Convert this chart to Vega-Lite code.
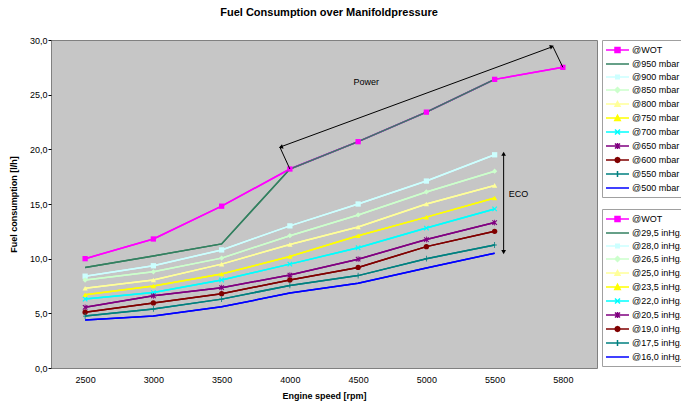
{
  "$schema": "https://vega.github.io/schema/vega-lite/v6.json",
  "width": 546,
  "height": 328,
  "autosize": "none",
  "padding": {"left": 51, "top": 40, "right": 84, "bottom": 39},
  "background": "white",
  "config": {
    "view": {"fill": "#C6C6C6", "stroke": "#808080", "strokeWidth": 1},
    "font": "Liberation Sans",
    "axis": {"labelFont": "Liberation Sans", "titleFont": "Liberation Sans", "labelColor": "#000000", "titleColor": "#000000", "labelFontSize": 9, "titleFontSize": 9, "titleFontWeight": "bold", "grid": false, "domain": false}
  },
  "title": {"text": "Fuel Consumption over Manifoldpressure", "fontSize": 11, "fontWeight": "bold", "font": "Liberation Sans", "color": "#000000", "anchor": "middle", "frame": "group", "offset": 7, "baseline": "bottom", "dx": 5},
  "datasets": {
    "fuel": [
      {"rpm": 2500, "series": "@WOT", "inhg": "@WOT", "fuel": 10.0},
      {"rpm": 3000, "series": "@WOT", "inhg": "@WOT", "fuel": 11.8},
      {"rpm": 3500, "series": "@WOT", "inhg": "@WOT", "fuel": 14.8},
      {"rpm": 4000, "series": "@WOT", "inhg": "@WOT", "fuel": 18.2},
      {"rpm": 4500, "series": "@WOT", "inhg": "@WOT", "fuel": 20.7},
      {"rpm": 5000, "series": "@WOT", "inhg": "@WOT", "fuel": 23.4},
      {"rpm": 5500, "series": "@WOT", "inhg": "@WOT", "fuel": 26.4},
      {"rpm": 5800, "series": "@WOT", "inhg": "@WOT", "fuel": 27.5},
      {"rpm": 2500, "series": "@950 mbar", "inhg": "@29,5 inHg.", "fuel": 9.2},
      {"rpm": 3000, "series": "@950 mbar", "inhg": "@29,5 inHg.", "fuel": 10.25},
      {"rpm": 3500, "series": "@950 mbar", "inhg": "@29,5 inHg.", "fuel": 11.35},
      {"rpm": 4000, "series": "@950 mbar", "inhg": "@29,5 inHg.", "fuel": 18.2},
      {"rpm": 4500, "series": "@950 mbar", "inhg": "@29,5 inHg.", "fuel": 20.7},
      {"rpm": 5000, "series": "@950 mbar", "inhg": "@29,5 inHg.", "fuel": 23.4},
      {"rpm": 5500, "series": "@950 mbar", "inhg": "@29,5 inHg.", "fuel": 26.4},
      {"rpm": 2500, "series": "@900 mbar", "inhg": "@28,0 inHg.", "fuel": 8.4},
      {"rpm": 3000, "series": "@900 mbar", "inhg": "@28,0 inHg.", "fuel": 9.35},
      {"rpm": 3500, "series": "@900 mbar", "inhg": "@28,0 inHg.", "fuel": 10.8},
      {"rpm": 4000, "series": "@900 mbar", "inhg": "@28,0 inHg.", "fuel": 13.0},
      {"rpm": 4500, "series": "@900 mbar", "inhg": "@28,0 inHg.", "fuel": 15.0},
      {"rpm": 5000, "series": "@900 mbar", "inhg": "@28,0 inHg.", "fuel": 17.1},
      {"rpm": 5500, "series": "@900 mbar", "inhg": "@28,0 inHg.", "fuel": 19.5},
      {"rpm": 2500, "series": "@850 mbar", "inhg": "@26,5 inHg.", "fuel": 8.05},
      {"rpm": 3000, "series": "@850 mbar", "inhg": "@26,5 inHg.", "fuel": 8.8},
      {"rpm": 3500, "series": "@850 mbar", "inhg": "@26,5 inHg.", "fuel": 10.05},
      {"rpm": 4000, "series": "@850 mbar", "inhg": "@26,5 inHg.", "fuel": 12.1},
      {"rpm": 4500, "series": "@850 mbar", "inhg": "@26,5 inHg.", "fuel": 14.0},
      {"rpm": 5000, "series": "@850 mbar", "inhg": "@26,5 inHg.", "fuel": 16.1},
      {"rpm": 5500, "series": "@850 mbar", "inhg": "@26,5 inHg.", "fuel": 18.0},
      {"rpm": 2500, "series": "@800 mbar", "inhg": "@25,0 inHg.", "fuel": 7.3},
      {"rpm": 3000, "series": "@800 mbar", "inhg": "@25,0 inHg.", "fuel": 8.05},
      {"rpm": 3500, "series": "@800 mbar", "inhg": "@25,0 inHg.", "fuel": 9.5},
      {"rpm": 4000, "series": "@800 mbar", "inhg": "@25,0 inHg.", "fuel": 11.3},
      {"rpm": 4500, "series": "@800 mbar", "inhg": "@25,0 inHg.", "fuel": 12.9},
      {"rpm": 5000, "series": "@800 mbar", "inhg": "@25,0 inHg.", "fuel": 15.0},
      {"rpm": 5500, "series": "@800 mbar", "inhg": "@25,0 inHg.", "fuel": 16.7},
      {"rpm": 2500, "series": "@750 mbar", "inhg": "@23,5 inHg.", "fuel": 6.7},
      {"rpm": 3000, "series": "@750 mbar", "inhg": "@23,5 inHg.", "fuel": 7.5},
      {"rpm": 3500, "series": "@750 mbar", "inhg": "@23,5 inHg.", "fuel": 8.6},
      {"rpm": 4000, "series": "@750 mbar", "inhg": "@23,5 inHg.", "fuel": 10.2},
      {"rpm": 4500, "series": "@750 mbar", "inhg": "@23,5 inHg.", "fuel": 12.1},
      {"rpm": 5000, "series": "@750 mbar", "inhg": "@23,5 inHg.", "fuel": 13.8},
      {"rpm": 5500, "series": "@750 mbar", "inhg": "@23,5 inHg.", "fuel": 15.55},
      {"rpm": 2500, "series": "@700 mbar", "inhg": "@22,0 inHg.", "fuel": 6.3},
      {"rpm": 3000, "series": "@700 mbar", "inhg": "@22,0 inHg.", "fuel": 6.9},
      {"rpm": 3500, "series": "@700 mbar", "inhg": "@22,0 inHg.", "fuel": 8.05},
      {"rpm": 4000, "series": "@700 mbar", "inhg": "@22,0 inHg.", "fuel": 9.5},
      {"rpm": 4500, "series": "@700 mbar", "inhg": "@22,0 inHg.", "fuel": 11.0},
      {"rpm": 5000, "series": "@700 mbar", "inhg": "@22,0 inHg.", "fuel": 12.8},
      {"rpm": 5500, "series": "@700 mbar", "inhg": "@22,0 inHg.", "fuel": 14.55},
      {"rpm": 2500, "series": "@650 mbar", "inhg": "@20,5 inHg.", "fuel": 5.55},
      {"rpm": 3000, "series": "@650 mbar", "inhg": "@20,5 inHg.", "fuel": 6.6},
      {"rpm": 3500, "series": "@650 mbar", "inhg": "@20,5 inHg.", "fuel": 7.35},
      {"rpm": 4000, "series": "@650 mbar", "inhg": "@20,5 inHg.", "fuel": 8.5},
      {"rpm": 4500, "series": "@650 mbar", "inhg": "@20,5 inHg.", "fuel": 9.95},
      {"rpm": 5000, "series": "@650 mbar", "inhg": "@20,5 inHg.", "fuel": 11.75},
      {"rpm": 5500, "series": "@650 mbar", "inhg": "@20,5 inHg.", "fuel": 13.3},
      {"rpm": 2500, "series": "@600 mbar", "inhg": "@19,0 inHg.", "fuel": 5.1},
      {"rpm": 3000, "series": "@600 mbar", "inhg": "@19,0 inHg.", "fuel": 5.95},
      {"rpm": 3500, "series": "@600 mbar", "inhg": "@19,0 inHg.", "fuel": 6.8},
      {"rpm": 4000, "series": "@600 mbar", "inhg": "@19,0 inHg.", "fuel": 8.05},
      {"rpm": 4500, "series": "@600 mbar", "inhg": "@19,0 inHg.", "fuel": 9.2},
      {"rpm": 5000, "series": "@600 mbar", "inhg": "@19,0 inHg.", "fuel": 11.1},
      {"rpm": 5500, "series": "@600 mbar", "inhg": "@19,0 inHg.", "fuel": 12.5},
      {"rpm": 2500, "series": "@550 mbar", "inhg": "@17,5 inHg.", "fuel": 4.75},
      {"rpm": 3000, "series": "@550 mbar", "inhg": "@17,5 inHg.", "fuel": 5.4},
      {"rpm": 3500, "series": "@550 mbar", "inhg": "@17,5 inHg.", "fuel": 6.3},
      {"rpm": 4000, "series": "@550 mbar", "inhg": "@17,5 inHg.", "fuel": 7.55},
      {"rpm": 4500, "series": "@550 mbar", "inhg": "@17,5 inHg.", "fuel": 8.45},
      {"rpm": 5000, "series": "@550 mbar", "inhg": "@17,5 inHg.", "fuel": 10.0},
      {"rpm": 5500, "series": "@550 mbar", "inhg": "@17,5 inHg.", "fuel": 11.25},
      {"rpm": 2500, "series": "@500 mbar", "inhg": "@16,0 inHg.", "fuel": 4.4},
      {"rpm": 3000, "series": "@500 mbar", "inhg": "@16,0 inHg.", "fuel": 4.75},
      {"rpm": 3500, "series": "@500 mbar", "inhg": "@16,0 inHg.", "fuel": 5.6},
      {"rpm": 4000, "series": "@500 mbar", "inhg": "@16,0 inHg.", "fuel": 6.85},
      {"rpm": 4500, "series": "@500 mbar", "inhg": "@16,0 inHg.", "fuel": 7.75},
      {"rpm": 5000, "series": "@500 mbar", "inhg": "@16,0 inHg.", "fuel": 9.15},
      {"rpm": 5500, "series": "@500 mbar", "inhg": "@16,0 inHg.", "fuel": 10.5}
    ]
  },
  "encoding": {
    "x": {"field": "rpm", "type": "ordinal", "scale": {"type": "point", "padding": 0.5},
      "axis": {"title": "Engine speed [rpm]", "labelAngle": 0, "ticks": false, "labelPadding": 7, "titlePadding": 7}},
    "y": {"field": "fuel", "type": "quantitative", "scale": {"domain": [0, 30], "nice": false},
      "axis": {"title": "Fuel consumption [l/h]", "values": [0, 5, 10, 15, 20, 25, 30], "labelExpr": "replace(format(datum.value, '.1f'), '.', ',')", "tickSize": 3, "tickColor": "#000000", "labelPadding": 1, "titlePadding": 11}}
  },
  "layer": [
    {
      "data": {"name": "fuel"},
      "mark": {"type": "line", "strokeWidth": 1.5},
      "encoding": {
        "color": {"field": "series", "type": "nominal",
          "scale": {"domain": ["@WOT", "@950 mbar", "@900 mbar", "@850 mbar", "@800 mbar", "@750 mbar", "@700 mbar", "@650 mbar", "@600 mbar", "@550 mbar", "@500 mbar"],
            "range": ["#FF00FF", "#338060", "#CCFFFF", "#CCFFCC", "#FFFF99", "#FFFF00", "#00FFFF", "#800080", "#800000", "#008080", "#0000FF"]},
          "legend": {"title": null, "orient": "none", "legendX": 551, "legendY": 0, "padding": 4, "strokeColor": "#A0A0A0", "fillColor": "#FFFFFF", "labelFont": "Liberation Sans", "labelFontSize": 9, "labelColor": "#000000", "symbolSize": 100, "symbolStrokeWidth": 1.5, "rowPadding": 2, "labelOffset": 14, "symbolType": "stroke",
            "encode": {"symbols": {"update": {
              "shape": {"signal": "datum.value === '@WOT' ? 'M-1.2,0H3.4M0.6,-0.5H1.6V0.5H0.6Z' : datum.value === '@900 mbar' ? 'M-1.2,0H3.4M0.75,-0.35H1.45V0.35H0.75Z' : datum.value === '@850 mbar' ? 'M-1.2,0H3.4M1.1,-0.5L1.6,0L1.1,0.5L0.6,0Z' : datum.value === '@800 mbar' ? 'M-1.2,0H3.4M1.1,-0.5L1.6,0.45H0.6Z' : datum.value === '@750 mbar' ? 'M-1.2,0H3.4M1.1,-0.55L1.65,0.5H0.55Z' : datum.value === '@700 mbar' ? 'M-1.2,0H3.4M0.6,-0.5L1.6,0.5M0.6,0.5L1.6,-0.5' : datum.value === '@650 mbar' ? 'M-1.2,0H3.4M0.6,-0.5L1.6,0.5M0.6,0.5L1.6,-0.5M1.1,-0.6V0.6' : datum.value === '@600 mbar' ? 'M-1.2,0H3.4M1.6,0L1.454,0.354L1.1,0.5L0.746,0.354L0.6,0L0.746,-0.354L1.1,-0.5L1.454,-0.354Z' : datum.value === '@550 mbar' ? 'M-1.2,0H3.4M1.1,-0.6V0.6' : 'M-1.2,0H3.4'"},
              "fill": {"scale": "color", "field": "value"},
              "stroke": {"scale": "color", "field": "value"},
              "strokeWidth": {"value": 1.5},
              "opacity": {"value": 1}
            }}}}
        }
      }
    },
    {
      "data": {"name": "fuel"},
      "mark": {"type": "line", "strokeWidth": 1.5},
      "encoding": {
        "stroke": {"field": "inhg", "type": "nominal",
          "scale": {"domain": ["@WOT", "@29,5 inHg.", "@28,0 inHg.", "@26,5 inHg.", "@25,0 inHg.", "@23,5 inHg.", "@22,0 inHg.", "@20,5 inHg.", "@19,0 inHg.", "@17,5 inHg.", "@16,0 inHg."],
            "range": ["#FF00FF", "#338060", "#CCFFFF", "#CCFFCC", "#FFFF99", "#FFFF00", "#00FFFF", "#800080", "#800000", "#008080", "#0000FF"]},
          "legend": {"title": null, "orient": "none", "legendX": 551, "legendY": 169, "padding": 4, "strokeColor": "#A0A0A0", "fillColor": "#FFFFFF", "labelFont": "Liberation Sans", "labelFontSize": 9, "labelColor": "#000000", "symbolSize": 100, "symbolStrokeWidth": 1.5, "rowPadding": 2, "labelOffset": 14, "symbolType": "stroke",
            "encode": {"symbols": {"update": {
              "shape": {"signal": "datum.value === '@WOT' ? 'M-1.2,0H3.4M0.6,-0.5H1.6V0.5H0.6Z' : datum.value === '@28,0 inHg.' ? 'M-1.2,0H3.4M0.75,-0.35H1.45V0.35H0.75Z' : datum.value === '@26,5 inHg.' ? 'M-1.2,0H3.4M1.1,-0.5L1.6,0L1.1,0.5L0.6,0Z' : datum.value === '@25,0 inHg.' ? 'M-1.2,0H3.4M1.1,-0.5L1.6,0.45H0.6Z' : datum.value === '@23,5 inHg.' ? 'M-1.2,0H3.4M1.1,-0.55L1.65,0.5H0.55Z' : datum.value === '@22,0 inHg.' ? 'M-1.2,0H3.4M0.6,-0.5L1.6,0.5M0.6,0.5L1.6,-0.5' : datum.value === '@20,5 inHg.' ? 'M-1.2,0H3.4M0.6,-0.5L1.6,0.5M0.6,0.5L1.6,-0.5M1.1,-0.6V0.6' : datum.value === '@19,0 inHg.' ? 'M-1.2,0H3.4M1.6,0L1.454,0.354L1.1,0.5L0.746,0.354L0.6,0L0.746,-0.354L1.1,-0.5L1.454,-0.354Z' : datum.value === '@17,5 inHg.' ? 'M-1.2,0H3.4M1.1,-0.6V0.6' : 'M-1.2,0H3.4'"},
              "fill": {"scale": "stroke", "field": "value"},
              "stroke": {"scale": "stroke", "field": "value"},
              "strokeWidth": {"value": 1.5},
              "opacity": {"value": 1}
            }}}}
        }
      }
    },
    {
      "data": {"name": "fuel"},
      "transform": [{"filter": "datum.series !== '@950 mbar' && datum.series !== '@500 mbar'"}],
      "mark": {"type": "point", "filled": true, "opacity": 1, "size": 28},
      "encoding": {
        "color": {"field": "series", "type": "nominal",
          "scale": {"domain": ["@WOT", "@950 mbar", "@900 mbar", "@850 mbar", "@800 mbar", "@750 mbar", "@700 mbar", "@650 mbar", "@600 mbar", "@550 mbar", "@500 mbar"],
            "range": ["#FF00FF", "#338060", "#CCFFFF", "#CCFFCC", "#FFFF99", "#FFFF00", "#00FFFF", "#800080", "#800000", "#008080", "#0000FF"]}},
        "shape": {"field": "series", "type": "nominal", "legend": null,
          "scale": {"domain": ["@WOT", "@900 mbar", "@850 mbar", "@800 mbar", "@750 mbar", "@700 mbar", "@650 mbar", "@600 mbar", "@550 mbar"],
            "range": ["square", "square", "diamond", "triangle-up", "triangle-up",
              "M-1,-0.7L-0.7,-1L0,-0.3L0.7,-1L1,-0.7L0.3,0L1,0.7L0.7,1L0,0.3L-0.7,1L-1,0.7L-0.3,0Z",
              "M-1,-0.7L-0.7,-1L0,-0.3L0.7,-1L1,-0.7L0.3,0L1,0.7L0.7,1L0,0.3L-0.7,1L-1,0.7L-0.3,0ZM-0.15,-1.1H0.15V1.1H-0.15Z",
              "circle",
              "M-0.15,-1.1H0.15V-0.15H0.8V0.15H0.15V1.1H-0.15V0.15H-0.8V-0.15H-0.15Z"]}}
      }
    },
    {
      "data": {"values": [{"rpm": 4000, "rpm_end": 4000, "fuel": 18.2, "fuel_end": 20.2}]},
      "mark": {"type": "rule", "color": "#000000", "strokeWidth": 1, "x2Offset": -10},
      "encoding": {"x2": {"field": "rpm_end"}, "y2": {"field": "fuel_end"}}
    },
    {
      "data": {"values": [{"rpm": 4000, "rpm_end": 5800, "fuel": 20.2, "fuel_end": 29.4}]},
      "mark": {"type": "rule", "color": "#000000", "strokeWidth": 1, "xOffset": -10, "x2Offset": -10},
      "encoding": {"x2": {"field": "rpm_end"}, "y2": {"field": "fuel_end"}}
    },
    {
      "data": {"values": [{"rpm": 5800, "rpm_end": 5800, "fuel": 27.5, "fuel_end": 29.4}]},
      "mark": {"type": "rule", "color": "#000000", "strokeWidth": 1, "x2Offset": -10},
      "encoding": {"x2": {"field": "rpm_end"}, "y2": {"field": "fuel_end"}}
    },
    {
      "data": {"values": [{"rpm": 5500, "rpm_end": 5500, "fuel": 10.6, "fuel_end": 19.6}]},
      "mark": {"type": "rule", "color": "#000000", "strokeWidth": 1, "xOffset": 9, "x2Offset": 9},
      "encoding": {"x2": {"field": "rpm_end"}, "y2": {"field": "fuel_end"}}
    },
    {
      "data": {"values": [{"rpm": 4000, "fuel": 20.2}]},
      "mark": {"type": "point", "shape": "triangle-right", "angle": 160, "filled": true, "opacity": 1, "color": "#000000", "size": 22, "xOffset": -9},
      "encoding": {}
    },
    {
      "data": {"values": [{"rpm": 5800, "fuel": 29.4}]},
      "mark": {"type": "point", "shape": "triangle-right", "angle": 340, "filled": true, "opacity": 1, "color": "#000000", "size": 22, "xOffset": -11},
      "encoding": {}
    },
    {
      "data": {"values": [{"rpm": 5500, "fuel": 19.6}]},
      "mark": {"type": "point", "shape": "triangle-up", "filled": true, "opacity": 1, "color": "#000000", "size": 22, "xOffset": 9},
      "encoding": {}
    },
    {
      "data": {"values": [{"rpm": 5500, "fuel": 10.6}]},
      "mark": {"type": "point", "shape": "triangle-down", "filled": true, "opacity": 1, "color": "#000000", "size": 22, "xOffset": 9},
      "encoding": {}
    },
    {
      "data": {"values": [{"rpm": 4500, "fuel": 26.2, "label": "Power"}]},
      "mark": {"type": "text", "font": "Liberation Sans", "fontSize": 9, "color": "#000000", "dx": 8, "baseline": "middle"},
      "encoding": {"text": {"field": "label"}}
    },
    {
      "data": {"values": [{"rpm": 5500, "fuel": 15.9, "label": "ECO"}]},
      "mark": {"type": "text", "font": "Liberation Sans", "fontSize": 9, "color": "#000000", "dx": 14, "align": "left", "baseline": "middle"},
      "encoding": {"text": {"field": "label"}}
    }
  ]
}
